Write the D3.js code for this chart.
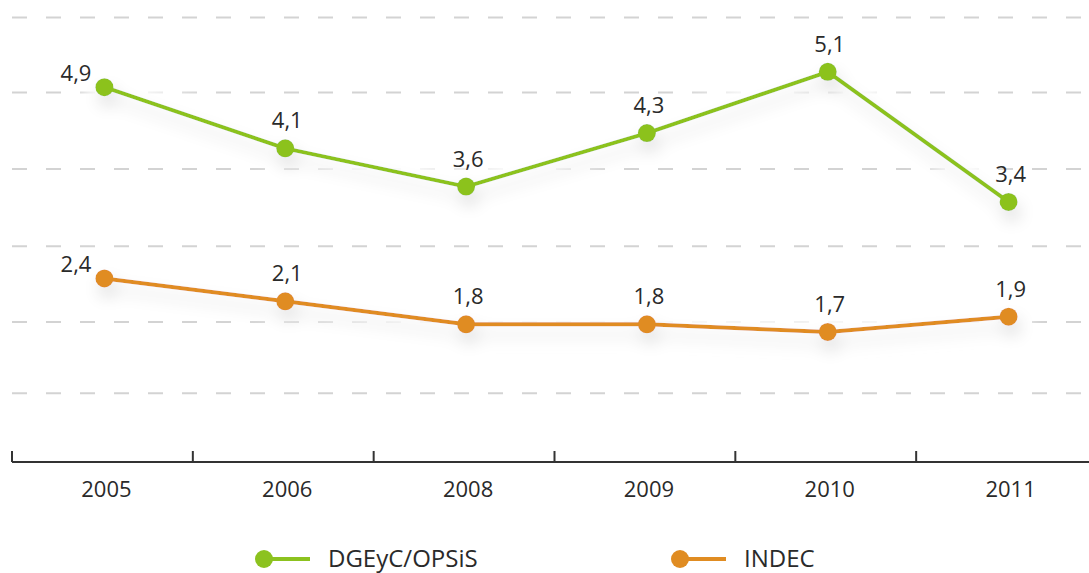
<!DOCTYPE html>
<html>
<head>
<meta charset="utf-8">
<script src="https://cdn.jsdelivr.net/npm/d3@7"></script>
<style>
  html, body { margin: 0; padding: 0; background: #fff; }
  svg { display: block; }
  text { font-family: "Open Sans", "DejaVu Sans", sans-serif; fill: #2a2a2a; }
</style>
</head>
<body>
<svg id="chart" width="1089" height="573"></svg>
<script>
// Years on the horizontal axis
const years = ["2005", "2006", "2008", "2009", "2010", "2011"];
// Series values
const dgeyc = [4.9, 4.1, 3.6, 4.3, 5.1, 3.4];
const indec = [2.4, 2.1, 1.8, 1.8, 1.7, 1.9];
// Series names and colours
const seriesNames = ["DGEyC/OPSiS", "INDEC"];
const seriesColors = ["#8cc21f", "#e08c22"];
// Dashed guide lines, in value units
const gridValues = [0.9, 1.83, 2.82, 3.83, 4.83, 5.81];

const W = 1089, H = 573;
const svg = d3.select("#chart");

const x = d3.scaleBand().domain(years).range([12, 1097]).padding(0);
const y = d3.scaleLinear().domain([0, 6]).range([462, 3]);
const cx = d => x(d) + x.bandwidth() / 2 + 2;

const fmt = v => d3.format(".1f")(v).replace(".", ",");

// Soft shadow + white halo beneath the lines
const defs = svg.append("defs");
const f = defs.append("filter").attr("id", "lineShadow")
  .attr("x", "-10%").attr("y", "-40%").attr("width", "120%").attr("height", "200%");
f.append("feMorphology").attr("in", "SourceAlpha").attr("operator", "dilate").attr("radius", 10).attr("result", "dil");
f.append("feGaussianBlur").attr("in", "dil").attr("stdDeviation", 8).attr("result", "dilBlur");
f.append("feFlood").attr("flood-color", "#ffffff").attr("result", "white");
f.append("feComposite").attr("in", "white").attr("in2", "dilBlur").attr("operator", "in").attr("result", "halo");
f.append("feGaussianBlur").attr("in", "SourceAlpha").attr("stdDeviation", 8).attr("result", "blur");
f.append("feOffset").attr("in", "blur").attr("dx", 3).attr("dy", 10).attr("result", "off");
f.append("feFlood").attr("flood-color", "#000").attr("flood-opacity", 0.26).attr("result", "grey");
f.append("feComposite").attr("in", "grey").attr("in2", "off").attr("operator", "in").attr("result", "shadow");
const m = f.append("feMerge");
m.append("feMergeNode").attr("in", "halo");
m.append("feMergeNode").attr("in", "shadow");
m.append("feMergeNode").attr("in", "SourceGraphic");

// Dashed guide lines
svg.append("g").selectAll("line").data(gridValues).join("line")
  .attr("x1", 12).attr("x2", W)
  .attr("y1", d => y(d)).attr("y2", d => y(d))
  .attr("stroke", "#d3d3d3").attr("stroke-width", 2)
  .attr("stroke-dasharray", "15 19");

// Horizontal axis with upward ticks at band edges
const axisG = svg.append("g");
axisG.append("line").attr("x1", 12).attr("x2", W).attr("y1", y(0)).attr("y2", y(0))
  .attr("stroke", "#333").attr("stroke-width", 2);
axisG.selectAll("line.tick").data(years).join("line").attr("class", "tick")
  .attr("x1", d => x(d)).attr("x2", d => x(d))
  .attr("y1", y(0)).attr("y2", y(0) - 11)
  .attr("stroke", "#333").attr("stroke-width", 2);
axisG.selectAll("text").data(years).join("text")
  .attr("x", d => cx(d) + 2).attr("y", y(0) + 35)
  .attr("text-anchor", "middle").attr("font-size", 22)
  .text(d => d);

// Lines and points
const series = [dgeyc, indec];
const line = d3.line().x((d, i) => cx(years[i])).y(d => y(d));

series.forEach((vals, s) => {
  const g = svg.append("g").attr("filter", "url(#lineShadow)");
  g.append("path").datum(vals).attr("d", line)
    .attr("fill", "none").attr("stroke", seriesColors[s]).attr("stroke-width", 4)
    .attr("stroke-linejoin", "round");
  g.selectAll("circle").data(vals).join("circle")
    .attr("cx", (d, i) => cx(years[i])).attr("cy", d => y(d)).attr("r", 9)
    .attr("fill", seriesColors[s]);
});

// Value labels
series.forEach((vals, s) => {
  svg.append("g").selectAll("text").data(vals).join("text")
    .attr("x", (d, i) => i === 0 ? cx(years[i]) - 13 : cx(years[i]) + 2)
    .attr("y", (d, i) => i === 0 ? y(d) - 6 : y(d) - 20)
    .attr("text-anchor", (d, i) => i === 0 ? "end" : "middle")
    .attr("font-size", 22)
    .text(d => fmt(d));
});

// Legend
const legendX = [264, 680];
const legend = svg.append("g");
seriesNames.forEach((name, s) => {
  const lg = legend.append("g").attr("transform", `translate(${legendX[s]},559)`);
  lg.append("line").attr("x1", 0).attr("x2", 46).attr("y1", 0).attr("y2", 0)
    .attr("stroke", seriesColors[s]).attr("stroke-width", 4);
  lg.append("circle").attr("r", 9).attr("fill", seriesColors[s]);
  lg.append("text").attr("x", 64).attr("y", 8).attr("font-size", 24).text(name);
});
</script>
</body>
</html>
